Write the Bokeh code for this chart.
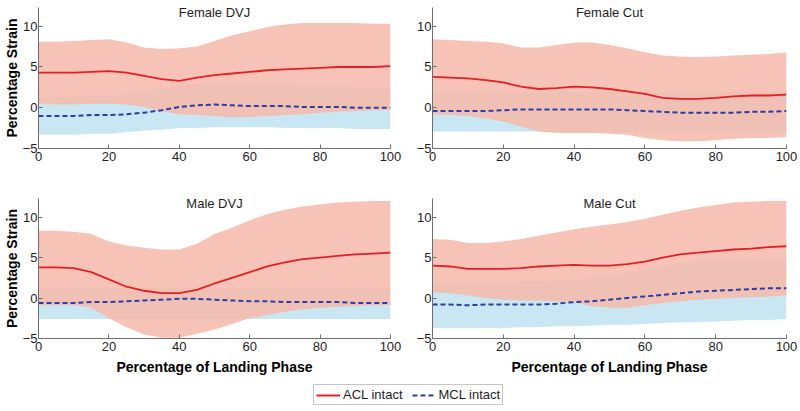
from bokeh.plotting import figure
from bokeh.layouts import column, row
from bokeh.models import Label, Legend, LegendItem, FixedTicker, Range1d
from bokeh.embed import file_html
from bokeh.resources import INLINE

# ---------------- data ----------------
x = [0, 5, 10, 15, 20, 25, 30, 35, 40, 45, 50, 55, 60, 65, 70, 75, 80, 85, 90, 95, 100]

titles = ["Female DVJ", "Female Cut", "Male DVJ", "Male Cut"]

# Female DVJ
fdvj_acl_up = [8.1, 8.1, 8.2, 8.3, 8.4, 8.0, 7.4, 7.2, 7.3, 7.5, 8.2, 8.9, 9.4, 9.9, 10.2, 10.4, 10.4, 10.4, 10.4, 10.3, 10.3]
fdvj_acl_mean = [4.3, 4.3, 4.3, 4.4, 4.5, 4.3, 3.9, 3.5, 3.3, 3.7, 4.0, 4.2, 4.4, 4.6, 4.7, 4.8, 4.9, 5.0, 5.0, 5.0, 5.1]
fdvj_acl_lo = [0.5, 0.4, 0.4, 0.5, 0.5, 0.4, 0.1, -0.4, -0.8, -0.9, -1.0, -1.2, -1.1, -1.0, -0.9, -0.8, -0.6, -0.5, -0.4, -0.3, -0.3]
fdvj_mcl_up = [1.3, 1.3, 1.4, 1.5, 1.5, 1.7, 2.0, 2.4, 2.8, 2.9, 2.9, 2.9, 2.8, 2.8, 2.8, 2.7, 2.7, 2.7, 2.6, 2.6, 2.6]
fdvj_mcl_mean = [-1.0, -1.0, -1.0, -0.9, -0.9, -0.8, -0.6, -0.3, 0.1, 0.3, 0.4, 0.3, 0.2, 0.2, 0.2, 0.1, 0.1, 0.1, 0.0, 0.0, 0.0]
fdvj_mcl_lo = [-3.3, -3.3, -3.3, -3.2, -3.2, -3.0, -2.8, -2.7, -2.5, -2.5, -2.4, -2.4, -2.4, -2.4, -2.5, -2.5, -2.5, -2.5, -2.6, -2.6, -2.6]

# Female Cut
fcut_acl_up = [8.4, 8.3, 8.2, 8.1, 7.9, 7.4, 7.4, 7.7, 8.0, 8.0, 7.7, 7.3, 6.8, 6.4, 6.3, 6.2, 6.3, 6.4, 6.5, 6.6, 6.8]
fcut_acl_mean = [3.8, 3.7, 3.6, 3.4, 3.1, 2.6, 2.3, 2.4, 2.6, 2.5, 2.3, 2.0, 1.7, 1.2, 1.1, 1.1, 1.2, 1.4, 1.5, 1.5, 1.6]
fcut_acl_lo = [-0.8, -0.9, -1.0, -1.3, -1.7, -2.3, -2.9, -3.1, -3.1, -3.1, -3.2, -3.3, -3.7, -4.0, -4.1, -4.1, -4.0, -3.8, -3.7, -3.7, -3.6]
fcut_mcl_up = [2.0, 2.0, 2.0, 2.0, 2.0, 2.0, 2.0, 2.0, 2.0, 2.0, 2.0, 2.0, 2.0, 2.0, 2.0, 2.0, 2.0, 2.0, 2.0, 2.0, 2.0]
fcut_mcl_mean = [-0.4, -0.4, -0.4, -0.4, -0.3, -0.2, -0.2, -0.2, -0.2, -0.2, -0.2, -0.3, -0.4, -0.5, -0.6, -0.6, -0.6, -0.6, -0.5, -0.5, -0.4]
fcut_mcl_lo = [-2.9, -2.9, -2.9, -2.9, -2.9, -2.9, -2.9, -3.0, -3.0, -3.0, -3.0, -3.0, -3.0, -3.0, -3.0, -3.0, -3.0, -3.0, -3.0, -3.0, -3.0]

# Male DVJ
mdvj_acl_up = [8.3, 8.3, 8.2, 7.9, 7.0, 6.5, 6.2, 6.0, 6.0, 6.7, 7.9, 8.7, 9.6, 10.4, 10.9, 11.3, 11.6, 11.8, 11.9, 12.0, 12.0]
mdvj_acl_mean = [3.8, 3.8, 3.7, 3.2, 2.3, 1.4, 0.9, 0.6, 0.6, 1.0, 1.8, 2.5, 3.2, 3.9, 4.4, 4.8, 5.0, 5.2, 5.4, 5.5, 5.6]
mdvj_acl_lo = [-0.9, -0.9, -0.9, -1.2, -2.5, -3.6, -4.5, -4.9, -4.9, -4.4, -3.9, -3.2, -2.5, -2.1, -1.7, -1.4, -1.2, -1.1, -1.0, -0.9, -0.9]
mdvj_mcl_up = [1.3, 1.3, 1.3, 1.3, 1.3, 1.3, 1.3, 1.3, 1.3, 1.3, 1.3, 1.3, 1.3, 1.3, 1.3, 1.3, 1.3, 1.3, 1.3, 1.3, 1.3]
mdvj_mcl_mean = [-0.6, -0.6, -0.6, -0.5, -0.5, -0.4, -0.3, -0.2, -0.1, -0.1, -0.2, -0.3, -0.4, -0.4, -0.5, -0.5, -0.5, -0.5, -0.6, -0.6, -0.6]
mdvj_mcl_lo = [-2.6, -2.6, -2.6, -2.6, -2.6, -2.6, -2.6, -2.6, -2.6, -2.6, -2.6, -2.6, -2.6, -2.6, -2.6, -2.6, -2.6, -2.6, -2.6, -2.6, -2.6]

# Male Cut
mcut_acl_up = [7.3, 7.2, 6.8, 6.8, 7.0, 7.3, 7.7, 8.1, 8.5, 8.8, 9.1, 9.4, 9.8, 10.3, 10.8, 11.2, 11.5, 11.8, 11.9, 12.0, 12.0]
mcut_acl_mean = [4.0, 3.9, 3.6, 3.6, 3.6, 3.7, 3.9, 4.0, 4.1, 4.0, 4.0, 4.2, 4.5, 5.0, 5.4, 5.6, 5.8, 6.0, 6.1, 6.3, 6.4]
mcut_acl_lo = [0.7, 0.6, 0.3, 0.0, -0.2, -0.3, -0.3, -0.4, -0.5, -1.0, -1.2, -1.2, -0.9, -0.6, -0.4, -0.2, -0.1, 0.0, 0.1, 0.2, 0.3]
mcut_mcl_up = [2.0, 2.0, 2.0, 2.0, 2.0, 2.1, 2.1, 2.2, 2.3, 2.5, 2.7, 3.1, 3.6, 4.0, 4.3, 4.5, 4.7, 4.8, 4.9, 4.9, 4.9]
mcut_mcl_mean = [-0.8, -0.8, -0.9, -0.8, -0.8, -0.8, -0.8, -0.7, -0.5, -0.4, -0.2, 0.0, 0.2, 0.4, 0.6, 0.8, 0.9, 1.0, 1.1, 1.2, 1.2]
mcut_mcl_lo = [-3.7, -3.7, -3.7, -3.7, -3.7, -3.6, -3.6, -3.5, -3.5, -3.4, -3.3, -3.3, -3.2, -3.1, -3.0, -3.0, -2.9, -2.8, -2.7, -2.7, -2.6]

x_ticks = [0, 20, 40, 60, 80, 100]
y_ticks = [-5, 0, 5, 10]
series_names = ["ACL intact", "MCL intact"]

# ---------------- style ----------------
FONT = "Liberation Sans"
RED = "#E41F26"
BLUE = "#2C3CA6"
RED_FILL = "#F7B8AA"
BLUE_FILL = "#C9E7F2"
AXIS_COL = "#6E6E6E"
TXT = "#1E1E1E"


def make_panel(title, acl_up, acl_mean, acl_lo, mcl_up, mcl_mean, mcl_lo,
               width, height, bl, br, bt, bb, show_xlabel, show_ylabel):
    p = figure(width=width, height=height, output_backend="svg", toolbar_location=None,
               x_range=Range1d(0, 100), y_range=Range1d(-5, 12.3),
               min_border_left=bl, min_border_right=br, min_border_top=bt,
               min_border_bottom=bb)
    p.outline_line_color = None
    p.xgrid.visible = False
    p.ygrid.visible = False
    p.background_fill_color = "white"
    p.border_fill_color = "white"

    p.varea(x=x, y1=mcl_lo, y2=mcl_up, fill_color=BLUE_FILL, fill_alpha=1.0)
    p.varea(x=x, y1=acl_lo, y2=acl_up, fill_color=RED_FILL, fill_alpha=0.85)
    p.line(x=x, y=mcl_mean, line_color=BLUE, line_width=2, line_dash="5 3")
    p.line(x=x, y=acl_mean, line_color=RED, line_width=1.8)

    for ax in (p.xaxis, p.yaxis):
        ax.axis_line_color = AXIS_COL
        ax.major_tick_line_color = AXIS_COL
        ax.major_tick_in = 4
        ax.major_tick_out = 0
        ax.minor_tick_line_color = None
        ax.major_label_text_font = FONT
        ax.major_label_text_font_size = "13px"
        ax.major_label_text_color = TXT
        ax.axis_label_text_font = FONT
        ax.axis_label_text_font_size = "14px"
        ax.axis_label_text_font_style = "bold"
        ax.axis_label_text_color = "black"
    p.xaxis.ticker = FixedTicker(ticks=x_ticks)
    p.yaxis.ticker = FixedTicker(ticks=y_ticks)
    p.xaxis.major_label_standoff = 3
    p.yaxis.major_label_standoff = 1
    p.yaxis.axis_label_standoff = 0
    p.xaxis.axis_label_standoff = 5
    if show_xlabel:
        p.xaxis.axis_label = "Percentage of Landing Phase"
    if show_ylabel:
        p.yaxis.axis_label = "Percentage Strain"

    p.add_layout(Label(x=50, y=11.7, text=title, text_align="center",
                       text_baseline="middle", text_font=FONT,
                       text_font_size="13px", text_color=TXT))
    return p


p1 = make_panel(titles[0], fdvj_acl_up, fdvj_acl_mean, fdvj_acl_lo, fdvj_mcl_up, fdvj_mcl_mean, fdvj_mcl_lo,
                412, 197, 36, 22, 7, 49, False, True)
p2 = make_panel(titles[1], fcut_acl_up, fcut_acl_mean, fcut_acl_lo, fcut_mcl_up, fcut_mcl_mean, fcut_mcl_lo,
                388, 197, 20, 14, 7, 49, False, False)
p3 = make_panel(titles[2], mdvj_acl_up, mdvj_acl_mean, mdvj_acl_lo, mdvj_mcl_up, mdvj_mcl_mean, mdvj_mcl_lo,
                412, 181, 36, 22, 1, 40, True, True)
p4 = make_panel(titles[3], mcut_acl_up, mcut_acl_mean, mcut_acl_lo, mcut_mcl_up, mcut_mcl_mean, mcut_mcl_lo,
                388, 181, 20, 14, 1, 40, True, False)

# legend strip
pl = figure(width=800, height=33, output_backend="svg", toolbar_location=None,
            x_range=Range1d(0, 1), y_range=Range1d(0, 1),
            min_border=0, x_axis_location=None, y_axis_location=None)
pl.outline_line_color = None
pl.xgrid.visible = False
pl.ygrid.visible = False
r_acl = pl.line(x=[5, 6], y=[5, 5], line_color=RED, line_width=2)
r_mcl = pl.line(x=[5, 6], y=[5, 5], line_color=BLUE, line_width=2, line_dash="5 3")
leg = Legend(items=[LegendItem(label=series_names[0], renderers=[r_acl]),
                    LegendItem(label=series_names[1], renderers=[r_mcl])],
             orientation="horizontal", location=(313, 6),
             label_text_font=FONT, label_text_font_size="13px", label_text_color=TXT,
             glyph_width=24, glyph_height=14, label_height=14, label_standoff=3,
             spacing=9, padding=2, margin=0,
             border_line_color="#8C8C8C", border_line_width=1,
             background_fill_color="white", background_fill_alpha=1.0)
pl.add_layout(leg, "center")

layout = column(row(p1, p2), row(p3, p4), pl)

open("out.html", "w").write(file_html(layout, INLINE))
